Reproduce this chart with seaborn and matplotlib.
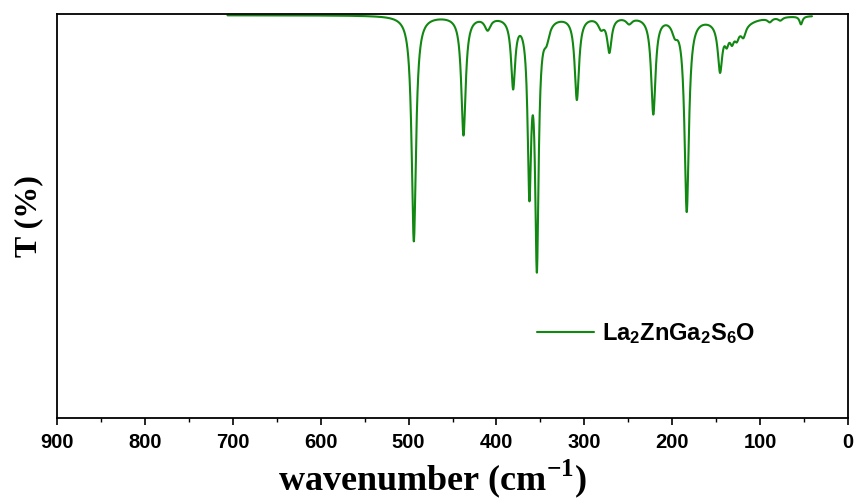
import numpy as np
import pandas as pd
import matplotlib
matplotlib.use("Agg")
import matplotlib.pyplot as plt
import seaborn as sns
from matplotlib.ticker import MultipleLocator

# ---- data (peak list of the IR spectrum) ----
peak_pos = [494.0, 437.5, 410.0, 381.0, 362.5, 354.0, 343.0, 308.5, 281.0, 271.5,
            249.0, 221.5, 197.0, 183.5, 145.6, 138.0, 132.0, 126.5, 119.0, 130.0,
            89.0, 77.0, 53.5]
peak_depth = [56.0, 29.5, 3.0, 17.0, 41.0, 60.0, 4.0, 20.5, 2.5, 8.5,
              1.5, 24.0, 3.0, 48.0, 11.5, 3.0, 2.5, 2.0, 2.5, 3.5,
              1.0, 0.8, 2.0]
peak_width = [3.0, 3.0, 4.0, 2.8, 2.4, 2.4, 4.0, 3.0, 4.0, 3.0,
              4.0, 3.0, 4.0, 3.0, 3.0, 2.5, 2.5, 2.5, 3.0, 18.0,
              3.0, 3.0, 2.0]
wn_start, wn_end = 706.0, 41.0
series_label = r"$\mathsf{La_2ZnGa_2S_6O}$"
x_ticks = [900, 800, 700, 600, 500, 400, 300, 200, 100, 0]

wn = np.arange(wn_start, wn_end - 0.01, -0.2)
T = np.full_like(wn, 100.0)
for p, d, g in zip(peak_pos, peak_depth, peak_width):
    T -= d * g**2 / ((wn - p) ** 2 + g**2)
df = pd.DataFrame({"wavenumber": wn, "T": T})

# ---- style ----
sns.set_style("ticks")
plt.rcParams["mathtext.fontset"] = "custom"
plt.rcParams["mathtext.sf"] = "Liberation Sans:bold"
plt.rcParams["mathtext.bf"] = "Liberation Serif:bold"
plt.rcParams["mathtext.rm"] = "Liberation Serif:bold"
plt.rcParams["text.color"] = "black"
plt.rcParams["axes.labelcolor"] = "black"
plt.rcParams["xtick.color"] = "black"
plt.rcParams["ytick.color"] = "black"

fig = plt.figure(figsize=(8.55, 5.04), dpi=100)
ax = fig.add_axes([57 / 855, 1 - 418 / 504, (848 - 57) / 855, (418 - 14) / 504])

sns.lineplot(data=df, x="wavenumber", y="T", ax=ax, color="#118811", lw=1.5,
             sort=False, estimator=None, label=series_label)

ax.set_xlim(900, 0)
ax.set_ylim(0, 100.3)
ax.set_xticks(x_ticks)
ax.xaxis.set_minor_locator(MultipleLocator(50))
ax.tick_params(axis="x", which="major", direction="out", length=5, width=1.2,
               pad=6, top=False, colors="black")
ax.tick_params(axis="x", which="minor", direction="out", length=3, width=1.0,
               top=False, colors="black")
ax.set_yticks([])
for lab in ax.get_xticklabels():
    lab.set_family("Liberation Sans")
    lab.set_fontweight("bold")
    lab.set_fontsize(14.5)
    lab.set_color("black")
for s in ax.spines.values():
    s.set_linewidth(1.3)
    s.set_color("black")

ax.set_xlabel(r"wavenumber (cm$^{\mathbf{-1}}$)", family="Liberation Serif",
              fontweight="bold", fontsize=26, color="black")
ax.xaxis.set_label_coords((432 - 57) / 791, -0.097)
ax.set_ylabel("T (%)", family="Liberation Serif", fontweight="bold",
              fontsize=23, labelpad=10, color="black")

leg = ax.legend(loc="center left", bbox_to_anchor=((537 - 57) / 791, (418 - 334) / 404),
                frameon=False, fontsize=17, handlelength=2.4, handletextpad=0.35,
                borderpad=0, borderaxespad=0)
for t in leg.get_texts():
    t.set_color("black")

fig.savefig("out.png", dpi=100)
